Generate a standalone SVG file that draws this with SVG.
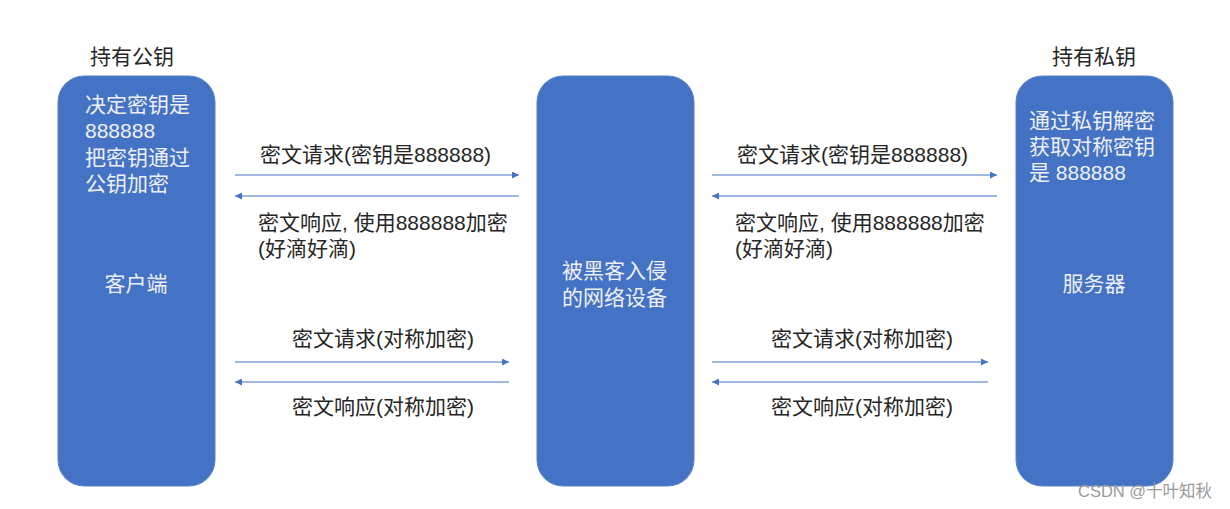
<svg xmlns="http://www.w3.org/2000/svg" width="1230" height="509" viewBox="0 0 1230 509">
<defs>
<style>
text{font-family:"Liberation Sans","Noto Sans CJK SC",sans-serif;font-size:21px;fill:#262626}
.box{fill:#4472C4;stroke:#5b82c9;stroke-width:1}
.in{fill:#eef0f5}
.ln{stroke:#4472C4;stroke-width:1;fill:none}
.wm{fill:#9a9a9a;font-size:16.5px}
</style>
<marker id="ah" viewBox="0 0 10 10" refX="10" refY="5" markerWidth="9" markerHeight="7" markerUnits="userSpaceOnUse" orient="auto"><path d="M0,0L10,5L0,10z" fill="#4472C4"/></marker>
</defs>
<rect width="1230" height="509" fill="#fff"/>
<g id="client">
<text x="132" y="64" text-anchor="middle">持有公钥</text>
<rect class="box" x="58" y="76" width="157" height="410" rx="26"/>
<text class="in" x="85" y="112">决定密钥是</text>
<text class="in" x="85" y="138">888888</text>
<text class="in" x="85" y="165">把密钥通过</text>
<text class="in" x="85" y="191">公钥加密</text>
<text class="in" x="136" y="291" text-anchor="middle">客户端</text>
</g>
<g id="middle">
<rect class="box" x="537" y="76" width="157" height="410" rx="26"/>
<text class="in" x="562" y="278">被黑客入侵</text>
<text class="in" x="562" y="305">的网络设备</text>
</g>
<g id="server">
<text x="1094" y="64" text-anchor="middle">持有私钥</text>
<rect class="box" x="1016" y="76" width="157" height="410" rx="26"/>
<text class="in" x="1029" y="128">通过私钥解密</text>
<text class="in" x="1029" y="154">获取对称密钥</text>
<text class="in" x="1029" y="180">是 888888</text>
<text class="in" x="1094" y="291" text-anchor="middle">服务器</text>
</g>
<g id="connectors">
<line class="ln" x1="235" y1="175" x2="519" y2="175" marker-end="url(#ah)"/>
<line class="ln" x1="519" y1="196" x2="235" y2="196" marker-end="url(#ah)"/>
<line class="ln" x1="235" y1="362" x2="509" y2="362" marker-end="url(#ah)"/>
<line class="ln" x1="509" y1="382" x2="235" y2="382" marker-end="url(#ah)"/>
<line class="ln" x1="712" y1="175" x2="997" y2="175" marker-end="url(#ah)"/>
<line class="ln" x1="997" y1="196" x2="712" y2="196" marker-end="url(#ah)"/>
<line class="ln" x1="712" y1="362" x2="988" y2="362" marker-end="url(#ah)"/>
<line class="ln" x1="988" y1="382" x2="712" y2="382" marker-end="url(#ah)"/>
</g>
<g id="labels">
<text x="260" y="162">密文请求(密钥是888888)</text>
<text x="258" y="230">密文响应, 使用888888加密</text>
<text x="258" y="256">(好滴好滴)</text>
<text x="737" y="162">密文请求(密钥是888888)</text>
<text x="735" y="230">密文响应, 使用888888加密</text>
<text x="735" y="256">(好滴好滴)</text>
<text x="292" y="346">密文请求(对称加密)</text>
<text x="292" y="414">密文响应(对称加密)</text>
<text x="771" y="346">密文请求(对称加密)</text>
<text x="771" y="414">密文响应(对称加密)</text>
</g>
<text class="wm" x="1078" y="497">CSDN @十叶知秋</text>
</svg>
